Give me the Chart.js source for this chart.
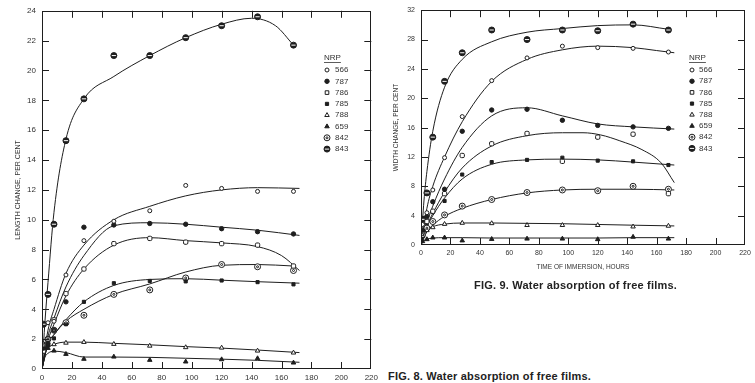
<!DOCTYPE html>
<html><head><meta charset="utf-8">
<script src="https://cdn.jsdelivr.net/npm/chart.js@4.4.1/dist/chart.umd.min.js"></script>
<style>
html,body{margin:0;padding:0;background:#fff;width:755px;height:383px;overflow:hidden;position:relative;font-family:'Liberation Sans',sans-serif}
#c8{position:absolute;left:0;top:0}
#c9{position:absolute;left:379px;top:0}
.cap{position:absolute;font-weight:bold;font-size:11px;color:#222;white-space:nowrap;letter-spacing:0.2px}
</style></head><body>
<canvas id="c8" width="382" height="383"></canvas>
<canvas id="c9" width="376" height="275"></canvas>
<div class="cap" style="left:474px;top:279px">FIG. 9. Water absorption of free films.</div>
<div class="cap" style="left:388px;top:370px">FIG. 8. Water absorption of free films.</div>
<script>
// ---------- data ----------
const series = ['566','787','786','785','788','659','842','843'];
const legendTitle = 'NRP';

// Fig. 8 : length change, per cent
const fig8Hours = [1, 4, 8, 16, 28, 48, 72, 96, 120, 144, 168];
const fig8_566 = [1.6, 3.1, 3.2, 6.3, 8.6, 9.9, 10.6, 12.3, 12.1, 11.9, 11.9];
const fig8_787 = [1.4, 1.7, 2.6, 4.5, 9.5, 9.65, 9.75, 9.7, 9.4, 9.2, 9.05];
const fig8_786 = [1.2, 2.0, 3.3, 5.05, 6.7, 8.4, 8.75, 8.5, 8.4, 8.3, 6.9];
const fig8_785 = [1.3, 1.6, 2.05, 3.0, 4.5, 5.75, 5.9, 5.87, 5.93, 5.82, 5.67];
const fig8_788 = [1.5, 1.6, 1.65, 1.75, 1.8, 1.67, 1.55, 1.45, 1.42, 1.22, 1.09];
const fig8_659 = [1.2, 1.4, 1.22, 1.0, 0.67, 0.82, 0.6, 0.49, 0.64, 0.71, 0.42];
const fig8_842 = [1.6, 2.0, 2.6, 3.1, 3.6, 5.0, 5.3, 6.1, 7.0, 6.85, 6.6];
const fig8_843 = [3.0, 5.0, 9.7, 15.3, 18.1, 21.0, 21.0, 22.2, 23.0, 23.6, 21.7];

// Fig. 8 hand-drawn fitted curves [hours, value]
const fig8Fit566 = [[0,0],[4,2.6],[8,4.0],[16,6.4],[28,8.3],[48,10.0],[72,10.9],[96,11.6],[120,12.0],[144,12.15],[172,12.1]];
const fig8Fit787 = [[0,0],[4,2.2],[8,3.4],[16,5.5],[28,7.6],[48,9.6],[72,9.8],[96,9.7],[120,9.5],[144,9.3],[172,8.95]];
const fig8Fit786 = [[0,0],[4,1.9],[8,3.0],[16,4.9],[28,6.7],[48,8.3],[72,8.8],[96,8.6],[120,8.45],[144,8.2],[160,7.6],[172,6.6]];
const fig8Fit785 = [[0,0],[4,1.7],[8,2.3],[16,3.3],[28,4.5],[48,5.6],[72,6.0],[96,6.05],[120,5.95],[144,5.85],[172,5.75]];
const fig8Fit788 = [[0,0],[2,1.0],[4,1.4],[8,1.65],[16,1.8],[28,1.8],[48,1.72],[72,1.62],[96,1.5],[120,1.4],[144,1.27],[172,1.1]];
const fig8Fit659 = [[0,0],[2,0.8],[4,1.05],[8,1.2],[16,1.1],[28,0.8],[48,0.8],[72,0.78],[96,0.72],[120,0.66],[144,0.58],[172,0.45]];
const fig8Fit842 = [[0,0],[4,1.7],[8,2.3],[16,3.2],[28,4.0],[48,5.0],[72,5.7],[96,6.5],[120,6.95],[144,7.0],[168,6.9]];
const fig8Fit843 = [[0,0],[2,3.2],[4,5.8],[8,10.5],[16,15.4],[28,18.1],[48,19.6],[72,21.0],[96,22.2],[120,23.1],[140,23.5],[156,23.0],[168,21.7]];

// Fig. 9 : width change, per cent
const fig9Hours = [1, 4, 8, 16, 28, 48, 72, 96, 120, 144, 168];
const fig9_566 = [2.8, 4.4, 7.5, 11.9, 17.5, 22.4, 25.5, 27.1, 26.9, 26.8, 26.3];
const fig9_787 = [2.0, 3.9, 5.9, 7.6, 15.5, 18.4, 18.5, 17.0, 16.3, 16.1, 15.9];
const fig9_786 = [1.8, 3.2, 4.6, 7.0, 12.2, 13.8, 15.2, 11.4, 14.7, 15.1, 7.0];
const fig9_785 = [1.5, 3.0, 4.5, 6.0, 9.6, 11.3, 11.6, 11.9, 11.5, 11.4, 10.9];
const fig9_788 = [1.2, 2.0, 2.4, 2.85, 3.0, 2.95, 2.7, 2.7, 2.7, 2.5, 2.6];
const fig9_659 = [0.5, 0.77, 1.0, 1.0, 0.6, 0.8, 0.85, 0.85, 0.77, 1.1, 0.85];
const fig9_842 = [1.4, 2.3, 3.2, 4.1, 5.3, 6.2, 7.15, 7.5, 7.4, 8.0, 7.6];
const fig9_843 = [3.5, 7.1, 14.7, 22.3, 26.2, 29.3, 28.0, 29.3, 29.2, 30.1, 29.3];

const fig9Fit566 = [[0,0],[4,5],[8,8],[16,12.0],[28,16.8],[48,22.3],[72,25.3],[96,26.6],[120,27.1],[144,26.9],[160,26.5],[172,26.2]];
const fig9Fit787 = [[0,0],[4,3],[8,5.3],[16,9.0],[28,13.3],[48,17.6],[72,18.7],[96,17.6],[120,16.5],[144,16.1],[172,15.8]];
const fig9Fit786 = [[0,0],[4,2.6],[8,4.3],[16,7.2],[28,10.5],[48,13.5],[72,14.9],[96,15.3],[110,15.3],[122,15.0],[135,14.2],[150,13.0],[163,11.2],[172,8.5]];
const fig9Fit785 = [[0,0],[4,2.5],[8,4.0],[16,6.4],[28,9.0],[48,11.0],[72,11.6],[96,11.7],[120,11.6],[144,11.3],[172,10.9]];
const fig9Fit788 = [[0,0],[2,1.5],[4,2.0],[8,2.5],[16,2.85],[28,3.0],[48,3.0],[72,2.95],[96,2.9],[120,2.8],[144,2.7],[172,2.6]];
const fig9Fit659 = [[0,0],[2,0.6],[4,0.8],[8,0.95],[16,1.0],[28,1.0],[48,0.95],[72,0.95],[96,0.95],[120,0.95],[144,1.0],[172,1.0]];
const fig9Fit842 = [[0,0],[4,1.8],[8,2.7],[16,3.9],[28,5.0],[48,6.2],[72,7.1],[96,7.5],[120,7.6],[144,7.6],[172,7.5]];
const fig9Fit843 = [[0,0],[2,6],[4,10],[8,15.5],[16,21.5],[28,25.3],[48,27.7],[72,29.0],[96,29.5],[120,29.9],[144,30.0],[168,29.4]];

// ---------- styling ----------
const INK = '#1e1e1e';
const TXT = '#333';
const W = '#fff';
// each marker = list of layers drawn on top of each other
const markerStyles = {
  '566': [{pointStyle: 'circle', radius: 2.0, fill: W, border: INK}],
  '787': [{pointStyle: 'circle', radius: 2.2, fill: INK, border: INK}],
  '786': [{pointStyle: 'rectRounded', radius: 2.5, fill: W, border: INK}],
  '785': [{pointStyle: 'rect', radius: 2.2, fill: INK, border: INK}],
  '788': [{pointStyle: 'triangle', radius: 2.6, fill: W, border: INK}],
  '659': [{pointStyle: 'triangle', radius: 2.6, fill: INK, border: INK}],
  '842': [{pointStyle: 'circle', radius: 3.0, fill: W, border: INK}, {pointStyle: 'circle', radius: 1.0, fill: W, border: INK}],
  '843': [{pointStyle: 'circle', radius: 3.0, fill: INK, border: INK}, {pointStyle: 'line', radius: 2.1, fill: W, border: W}]
};

function buildDatasets(hours, values, fits) {
  const ds = [];
  series.forEach(name => {
    ds.push({
      label: name + ' fit', data: fits[name].map(([x, y]) => ({x, y})),
      showLine: true, borderColor: INK, borderWidth: 1, pointRadius: 0,
      cubicInterpolationMode: 'monotone', fill: false, order: 3
    });
    markerStyles[name].forEach((st, k) => {
      ds.push({
        label: k === 0 ? name : name + ' mark', data: hours.map((h, i) => ({x: h, y: values[name][i]})),
        showLine: false, pointStyle: st.pointStyle, pointRadius: st.radius,
        pointBackgroundColor: st.fill, pointBorderColor: st.border, pointBorderWidth: 1, order: 2 - k
      });
    });
  });
  return ds;
}

// frame + inward tick marks
const frameTicks = {
  id: 'frameTicks',
  afterDraw(chart, args, opts) {
    const {ctx, chartArea: a, scales: {x, y}} = chart;
    const L = opts.len;
    ctx.save();
    ctx.strokeStyle = INK; ctx.lineWidth = 1;
    ctx.strokeRect(Math.round(a.left) + 0.5, Math.round(a.top) + 0.5, Math.round(a.width) - 1, Math.round(a.height) - 1);
    ctx.beginPath();
    x.ticks.forEach(t => {
      const p = Math.round(x.getPixelForValue(t.value)) + 0.5;
      if (p <= a.left + 1 || p >= a.right - 1) return;
      ctx.moveTo(p, a.bottom); ctx.lineTo(p, a.bottom - L);
      ctx.moveTo(p, a.top); ctx.lineTo(p, a.top + L);
    });
    y.ticks.forEach(t => {
      const p = Math.round(y.getPixelForValue(t.value)) + 0.5;
      if (p <= a.top + 1 || p >= a.bottom - 1) return;
      ctx.moveTo(a.left, p); ctx.lineTo(a.left + L, p);
      ctx.moveTo(a.right, p); ctx.lineTo(a.right - L, p);
    });
    ctx.stroke();
    ctx.restore();
  }
};

function drawMark(ctx, layers, x, y) {
  layers.forEach(st => {
    ctx.save();
    ctx.strokeStyle = st.border; ctx.fillStyle = st.fill; ctx.lineWidth = 1;
    const r = st.radius;
    ctx.beginPath();
    if (st.pointStyle === 'circle') {
      ctx.arc(x, y, r, 0, 2 * Math.PI); ctx.fill(); ctx.stroke();
    } else if (st.pointStyle === 'rect' || st.pointStyle === 'rectRounded') {
      const s = r * 1.45;
      ctx.rect(x - s / 2, y - s / 2, s, s); ctx.fill(); ctx.stroke();
    } else if (st.pointStyle === 'triangle') {
      ctx.moveTo(x, y - r); ctx.lineTo(x + r * 0.87, y + r * 0.5); ctx.lineTo(x - r * 0.87, y + r * 0.5);
      ctx.closePath(); ctx.fill(); ctx.stroke();
    } else if (st.pointStyle === 'line') {
      ctx.moveTo(x - r, y); ctx.lineTo(x + r, y); ctx.stroke();
    }
    ctx.restore();
  });
}

const nrpLegend = {
  id: 'nrpLegend',
  afterDraw(chart, args, o) {
    const ctx = chart.ctx;
    ctx.save();
    ctx.fillStyle = TXT; ctx.font = o.size + 'px "Liberation Sans"'; ctx.textBaseline = 'middle';
    ctx.fillText(legendTitle, o.titleX, o.y);
    const w = ctx.measureText(legendTitle).width;
    ctx.strokeStyle = TXT; ctx.lineWidth = 0.8;
    ctx.beginPath(); ctx.moveTo(o.titleX, o.y + 4.5); ctx.lineTo(o.titleX + w, o.y + 4.5); ctx.stroke();
    series.forEach((name, i) => {
      const yy = o.y + o.first + i * o.row;
      drawMark(ctx, markerStyles[name], o.markX, yy);
      ctx.fillStyle = TXT;
      ctx.fillText(name, o.textX, yy);
    });
    ctx.restore();
  }
};

function tickFont(size) { return {family: 'Liberation Sans', size}; }

function makeChart(id, cfg) {
  return new Chart(document.getElementById(id), {
    type: 'scatter',
    data: {datasets: buildDatasets(cfg.hours, cfg.values, cfg.fits)},
    options: {
      responsive: false, animation: false, devicePixelRatio: 1,
      layout: {padding: {top: 9, right: 10, bottom: 0, left: 0}},
      plugins: {legend: {display: false}, tooltip: {enabled: false}, frameTicks: {len: 7}, nrpLegend: cfg.legend},
      scales: {
        x: {
          type: 'linear', min: 0, max: 220,
          grid: {display: false, drawTicks: false, tickLength: 0}, border: {display: false},
          ticks: {stepSize: 20, autoSkip: false, maxRotation: 0, padding: cfg.xPad, color: TXT, font: tickFont(cfg.tickSize)},
          title: cfg.xTitle,
          afterFit(s) { s.height = cfg.xHeight; }
        },
        y: {
          type: 'linear', min: 0, max: cfg.yMax,
          grid: {display: false, drawTicks: false, tickLength: 0}, border: {display: false},
          ticks: {stepSize: cfg.yStep, autoSkip: false, padding: 6, color: TXT, font: tickFont(cfg.tickSize)},
          title: cfg.yTitle,
          afterFit(s) { s.width = 42; }
        }
      }
    },
    plugins: [frameTicks, nrpLegend]
  });
}

makeChart('c8', {
  hours: fig8Hours,
  values: {'566': fig8_566, '787': fig8_787, '786': fig8_786, '785': fig8_785, '788': fig8_788, '659': fig8_659, '842': fig8_842, '843': fig8_843},
  fits: {'566': fig8Fit566, '787': fig8Fit787, '786': fig8Fit786, '785': fig8Fit785, '788': fig8Fit788, '659': fig8Fit659, '842': fig8Fit842, '843': fig8Fit843},
  yMax: 24, yStep: 2, tickSize: 8, xPad: 4, xHeight: 14,
  xTitle: {display: false},
  yTitle: {display: true, text: 'LENGTH CHANGE, PER CENT', color: TXT, font: {family: 'Liberation Sans', size: 7}, padding: {top: 14, bottom: 0}},
  legend: {titleX: 324, y: 58, first: 12, row: 11.3, markX: 327, textX: 335, size: 8}
});

makeChart('c9', {
  hours: fig9Hours,
  values: {'566': fig9_566, '787': fig9_787, '786': fig9_786, '785': fig9_785, '788': fig9_788, '659': fig9_659, '842': fig9_842, '843': fig9_843},
  fits: {'566': fig9Fit566, '787': fig9Fit787, '786': fig9Fit786, '785': fig9Fit785, '788': fig9Fit788, '659': fig9Fit659, '842': fig9Fit842, '843': fig9Fit843},
  yMax: 32, yStep: 4, tickSize: 7, xPad: 4, xHeight: 30,
  xTitle: {display: true, text: 'TIME OF IMMERSION, HOURS', color: TXT, font: {family: 'Liberation Sans', size: 6.5}, padding: {top: 2, bottom: 4}},
  yTitle: {display: true, text: 'WIDTH CHANGE, PER CENT', color: TXT, font: {family: 'Liberation Sans', size: 6.5}, padding: {top: 13, bottom: 0}},
  legend: {titleX: 310, y: 58, first: 12, row: 11.2, markX: 313, textX: 320, size: 8}
});
</script>
</body></html>
